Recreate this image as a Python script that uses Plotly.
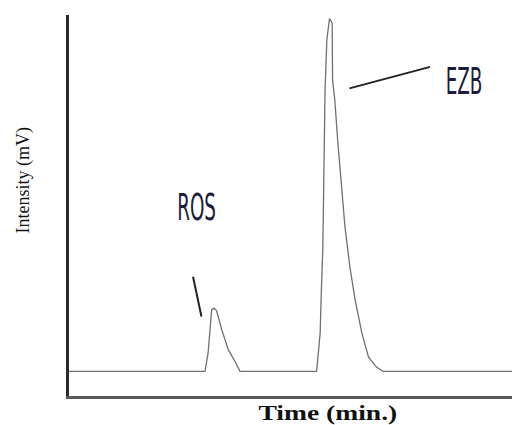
import plotly.graph_objects as go

# Chromatogram trace: time (min) and intensity (mV)
time_min = [0.0, 3.07, 3.14, 3.18, 3.22, 3.27, 3.33, 3.45, 3.60, 3.75, 3.86,
            5.59, 5.67, 5.69, 5.73, 5.78, 5.82, 5.88, 5.94, 5.95, 6.00, 6.07,
            6.15, 6.23, 6.34, 6.46, 6.61, 6.76, 6.94, 7.09, 10.0]
intensity_mv = [0.0, 0.0, 5.2, 10.9, 17.4, 17.9, 17.2, 11.7, 6.0, 2.7, 0.0,
                0.0, 10.9, 20.2, 35.2, 79.7, 93.9, 100.0, 98.7, 82.6, 76.9, 64.7,
                52.2, 40.9, 29.6, 20.2, 10.9, 4.1, 1.2, 0.0, 0.0]

# Peak labels and their leader lines
peak_names = ["ROS", "EZB"]
label_time = [2.88, 8.92]
label_mv = [46.6, 82.3]
leader_t0 = [2.80, 6.33]
leader_v0 = [26.8, 80.2]
leader_t1 = [2.99, 8.15]
leader_v1 = [15.5, 86.3]

x_range = [0, 10]
y_range = [-7, 101]

fig = go.Figure()
fig.add_trace(go.Scatter(x=time_min, y=intensity_mv, mode="lines",
                         line=dict(color="#707070", width=1.3),
                         hoverinfo="skip", showlegend=False))

for i, name in enumerate(peak_names):
    fig.add_trace(go.Scatter(x=[leader_t0[i], leader_t1[i]], y=[leader_v0[i], leader_v1[i]],
                             mode="lines", line=dict(color="#222222", width=2),
                             hoverinfo="skip", showlegend=False))
    fig.add_annotation(x=label_time[i], y=label_mv[i], text=name, showarrow=False,
                       font=dict(family="DejaVu Sans Condensed, sans-serif",
                                 size=30, color="#1c1c3c"),
                       xanchor="center", yanchor="middle")

fig.add_annotation(x=0.585, y=-0.046, xref="paper", yref="paper", text="<b>Time (min.)</b>",
                   showarrow=False, yanchor="middle", xanchor="center",
                   font=dict(family="Liberation Serif, Times New Roman, serif", size=19, color="#111111"))
fig.add_annotation(x=-0.102, y=0.565, xref="paper", yref="paper", text="Intensity (mV)",
                   showarrow=False, textangle=-90, xanchor="center", yanchor="middle",
                   font=dict(family="Liberation Serif, Times New Roman, serif", size=18, color="#111111"))

fig.update_layout(
    width=512, height=425,
    margin=dict(l=69, r=0, t=15, b=29),
    paper_bgcolor="white", plot_bgcolor="white",
    xaxis=dict(range=x_range, showgrid=False, zeroline=False, showticklabels=False,
               ticks="", showline=True, linecolor="#5a5a5a", linewidth=3, mirror=False),
    yaxis=dict(range=y_range, showgrid=False, zeroline=False, showticklabels=False,
               ticks="", showline=True, linecolor="#2a2a2a", linewidth=3, mirror=False),
)

post = (
    "document.body.style.margin='0';document.body.style.overflow='hidden';"
    "document.querySelectorAll('text.annotation-text').forEach(function(t){"
    "var s=t.textContent;"
    "if(s==='ROS'||s==='EZB'){"
    "t.style.transformBox='fill-box';t.style.transformOrigin='center';"
    "t.style.transform='scale(0.68,1.27)';}"
    "if(s==='Time (min.)'){"
    "t.style.transformBox='fill-box';t.style.transformOrigin='center';"
    "t.style.transform='scale(1.45,1.05)';}"
    "});"
)

fig.write_html("out.html", config={"displayModeBar": False}, post_script=post)
